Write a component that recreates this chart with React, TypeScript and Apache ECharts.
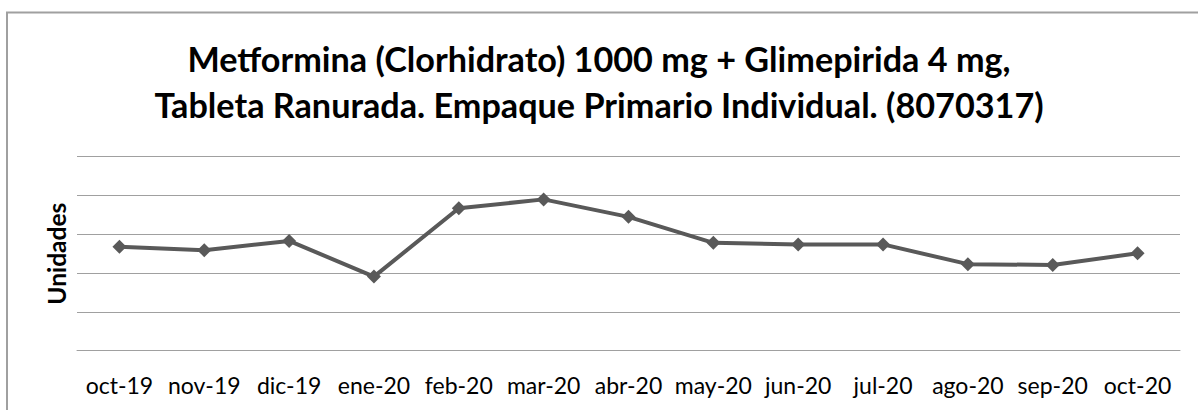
import React, { useEffect, useRef } from "react";
import * as echarts from "echarts";

const categories = ["oct-19", "nov-19", "dic-19", "ene-20", "feb-20", "mar-20", "abr-20", "may-20", "jun-20", "jul-20", "ago-20", "sep-20", "oct-20"];
const unidades = [26.8, 25.9, 28.3, 19.1, 36.7, 39.0, 34.5, 27.8, 27.4, 27.4, 22.3, 22.1, 25.1];
const titleLines = ["Metformina (Clorhidrato) 1000 mg + Glimepirida 4 mg,", "Tableta Ranurada. Empaque Primario Individual. (8070317)"];
const yAxisName = "Unidades";

export default function App() {
  const ref = useRef<HTMLDivElement>(null);
  useEffect(() => {
    if (!ref.current) return;
    const chart = echarts.init(ref.current, null, { renderer: "svg" });
    chart.setOption({
      animation: false,
      backgroundColor: "#ffffff",
      textStyle: { fontFamily: "Lato" },
      title: {
        text: titleLines.join("\n"),
        left: "center",
        top: 30,
        textStyle: { fontFamily: "Lato", fontWeight: "bold", fontSize: 34.2, lineHeight: 46, color: "#000000" },
      },
      graphic: [
        {
          type: "rect",
          shape: { x: 7, y: 12.5, width: 1200, height: 420 },
          style: { fill: "none", stroke: "#a0a0a0", lineWidth: 2 },
          silent: true,
        },
      ],
      grid: { left: 77, right: 18, top: 156.7, bottom: 59.3, containLabel: false },
      xAxis: {
        type: "category",
        data: categories,
        boundaryGap: true,
        axisLine: { show: true, lineStyle: { color: "#a0a0a0", width: 1 } },
        axisTick: { show: false },
        axisLabel: { fontFamily: "Lato", fontSize: 23, color: "#000000", margin: 23, interval: 0 },
      },
      yAxis: {
        type: "value",
        min: 0,
        max: 50,
        interval: 10,
        name: yAxisName,
        nameLocation: "middle",
        nameGap: 8,
        nameRotate: 90,
        nameTextStyle: { fontFamily: "Lato", fontWeight: "bold", fontSize: 24.5, color: "#000000" },
        axisLine: { show: false },
        axisTick: { show: false },
        axisLabel: { show: false },
        splitLine: { show: true, lineStyle: { color: "#a0a0a0", width: 1 } },
      },
      series: [
        {
          type: "line",
          data: unidades,
          symbol: "diamond",
          symbolSize: 14,
          lineStyle: { color: "#595959", width: 4 },
          itemStyle: { color: "#595959" },
        },
      ],
    });
    return () => chart.dispose();
  }, []);
  return <div ref={ref} style={{ position: "absolute", left: 0, top: 0, width: 1198, height: 410 }} />;
}
